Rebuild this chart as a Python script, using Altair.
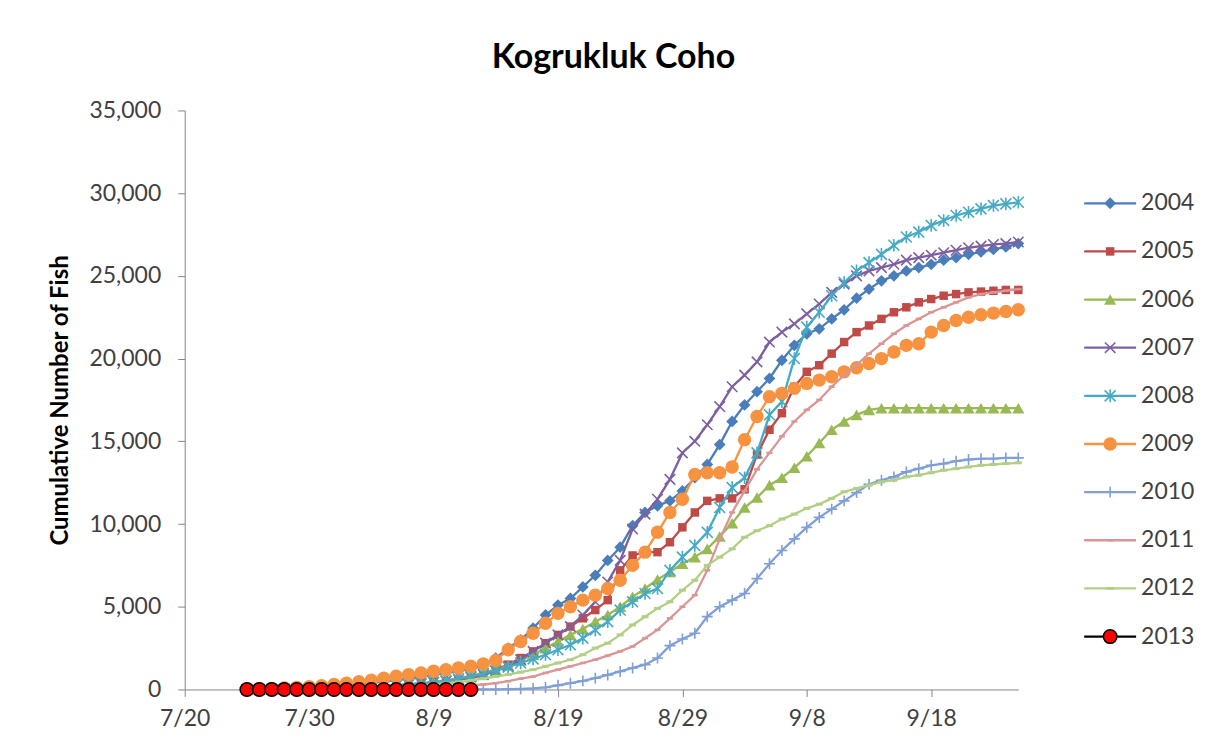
import altair as alt
import pandas as pd

# ---------------- data ----------------
years = ["2004", "2005", "2006", "2007", "2008", "2009", "2010", "2011", "2012", "2013"]
first_day = "2013-07-25"          # first daily count (7/25); last is 9/25

v2004 = [0, 10, 20, 40, 60, 90, 130, 180, 240, 310,
         390, 470, 560, 660, 770, 880, 1000, 1120, 1250, 1450,
         1900, 2500, 3000, 3700, 4500, 5100, 5500, 6200, 6900, 7800,
         8600, 9900, 10700, 11100, 11400, 12000, 12800, 13600, 14800, 16200,
         17200, 18000, 18800, 19900, 20800, 21500, 21800, 22400, 22950, 23650,
         24200, 24700, 25000, 25300, 25500, 25700, 25950, 26100, 26300, 26450,
         26600, 26750, 26950]
v2005 = [0, 0, 10, 20, 30, 40, 60, 80, 100, 130,
         160, 200, 250, 300, 360, 430, 500, 600, 700, 850,
         1200, 1500, 1900, 2300, 2800, 3300, 3800, 4300, 4800, 5400,
         7200, 8100, 8300, 8300, 8900, 9800, 10700, 11400, 11550, 11550,
         12100, 14200, 15700, 16700, 18300, 19200, 19600, 20300, 21000, 21600,
         22000, 22400, 22800, 23100, 23400, 23600, 23800, 23900, 24000, 24050,
         24100, 24150, 24150]
v2006 = [0, 0, 10, 20, 30, 40, 60, 80, 100, 130,
         160, 200, 250, 300, 370, 450, 550, 680, 820, 1000,
         1200, 1450, 1750, 2100, 2500, 2900, 3300, 3650, 4100, 4500,
         5000, 5600, 6100, 6650, 7100, 7600, 8000, 8500, 9250, 10050,
         11000, 11600, 12350, 12800, 13400, 14100, 14900, 15700, 16200, 16600,
         16900, 17000, 17000, 17000, 17000, 17000, 17000, 17000, 17000, 17000,
         17000, 17000, 17000]
v2007 = [0, 0, 10, 20, 30, 40, 60, 80, 100, 130,
         160, 200, 250, 300, 350, 420, 500, 600, 750, 900,
         1100, 1400, 1800, 2300, 2800, 3300, 3800, 4500, 5300, 6500,
         7800, 9700, 10600, 11500, 12700, 14300, 15000, 16000, 17100, 18300,
         19000, 19800, 21000, 21600, 22100, 22700, 23300, 24000, 24500, 25000,
         25300, 25500, 25700, 25950, 26100, 26250, 26400, 26550, 26700, 26800,
         26900, 26950, 27050]
v2008 = [0, 0, 10, 20, 30, 40, 60, 80, 100, 120,
         150, 190, 230, 280, 330, 420, 520, 640, 780, 950,
         1150, 1350, 1600, 1850, 2100, 2400, 2700, 3100, 3600, 4100,
         4800, 5300, 5800, 6100, 7200, 8000, 8700, 9500, 11000, 12200,
         12800, 14300, 16600, 17400, 20000, 21900, 22800, 23800, 24600, 25300,
         25800, 26300, 26850, 27350, 27650, 28050, 28350, 28650, 28850, 29050,
         29250, 29350, 29450]
v2009 = [20, 40, 60, 90, 120, 170, 230, 300, 380, 470,
         560, 680, 800, 900, 1000, 1100, 1190, 1300, 1400, 1550,
         1750, 2400, 2900, 3400, 4000, 4600, 5000, 5400, 5700, 6100,
         6600, 7500, 8300, 9500, 10700, 11500, 13000, 13100, 13100, 13450,
         15100, 16500, 17700, 17900, 18200, 18500, 18700, 18900, 19200, 19450,
         19700, 20000, 20400, 20800, 20900, 21600, 22000, 22300, 22500, 22650,
         22750, 22850, 22950]
v2010 = [0, 0, 0, 0, 0, 0, 0, 0, 0, 0,
         0, 0, 0, 0, 0, 0, 0, 0, 0, 0,
         0, 20, 40, 60, 120, 250, 380, 520, 680, 880,
         1090, 1300, 1500, 1900, 2650, 3050, 3400, 4400, 5000, 5400,
         5800, 6700, 7600, 8400, 9100, 9800, 10400, 10900, 11400, 11900,
         12400, 12650, 12850, 13150, 13350, 13550, 13650, 13800, 13900, 13950,
         13950, 14000, 14000]
v2011 = [0, 0, 0, 0, 0, 0, 0, 10, 20, 30,
         40, 50, 60, 80, 100, 120, 150, 200, 250, 300,
         380, 500, 650, 780, 1000, 1200, 1400, 1600, 1800, 2050,
         2300, 2600, 3100, 3600, 4300, 5000, 5700, 7200, 9100, 10700,
         12000, 13300, 14300, 15300, 16200, 16900, 17500, 18300, 19000, 19600,
         20300, 20900, 21500, 22000, 22400, 22800, 23100, 23400, 23700, 23900,
         24000, 24100, 24200]
v2012 = [0, 0, 0, 0, 10, 20, 30, 40, 50, 70,
         100, 130, 160, 200, 250, 300, 380, 450, 550, 650,
         780, 900, 1050, 1200, 1400, 1600, 1800, 2100, 2500, 2800,
         3300, 3900, 4400, 4900, 5300, 6000, 6600, 7500, 8000, 8500,
         9200, 9600, 9900, 10300, 10600, 10950, 11200, 11550, 11950, 12150,
         12350, 12550, 12650, 12850, 12950, 13100, 13250, 13350, 13450, 13550,
         13600, 13650, 13700]
v2013 = [0, 0, 0, 0, 0, 0, 0, 0, 0, 0,
         0, 0, 0, 0, 0, 0, 0, 0, 0]

x_ticks = ["2013-07-20", "2013-07-30", "2013-08-09", "2013-08-19",
           "2013-08-29", "2013-09-08", "2013-09-18"]
x_domain = ["2013-07-20", "2013-09-25"]
y_ticks = [0, 5000, 10000, 15000, 20000, 25000, 30000, 35000]

series = dict(zip(years, [v2004, v2005, v2006, v2007, v2008,
                          v2009, v2010, v2011, v2012, v2013]))
dates = pd.date_range(first_day, periods=len(v2004), freq="D").strftime("%Y-%m-%d").tolist()
rows = []
for yr, vals in series.items():
    for dt_, v in zip(dates, vals):
        rows.append({"date": dt_, "year": yr, "fish": v})
df = pd.DataFrame(rows)

# ---------------- styles ----------------
X_PATH = "M-1,-1L1,1M-1,1L1,-1"
AST_PATH = "M-1,-1L1,1M-1,1L1,-1M0,-1.15L0,1.15"
PLUS_PATH = "M-1,0L1,0M0,-1L0,1"
DASH_PATH = "M-1,0L1,0"

styles = {
    "2004": dict(line="#4A7EBB", pt=dict(shape="diamond", filled=True, color="#4A7EBB", size=140)),
    "2005": dict(line="#BE4B48", pt=dict(shape="square", filled=True, color="#BE4B48", size=72)),
    "2006": dict(line="#98B954", pt=dict(shape="triangle-up", filled=True, color="#98B954", size=150)),
    "2007": dict(line="#7D60A0", pt=dict(shape=X_PATH, filled=False, color="#7D60A0", size=110, strokeWidth=1.6)),
    "2008": dict(line="#46AAC5", pt=dict(shape=AST_PATH, filled=False, color="#46AAC5", size=120, strokeWidth=1.6)),
    "2009": dict(line="#F69240", pt=dict(shape="circle", filled=True, color="#F69240", size=180)),
    "2010": dict(line="#7F9FD6", pt=dict(shape=PLUS_PATH, filled=False, color="#7F9FD6", size=120, strokeWidth=1.6)),
    "2011": dict(line="#D99694", pt=dict(shape=DASH_PATH, filled=False, color="#D99694", size=36, strokeWidth=2.5)),
    "2012": dict(line="#B3CF85", pt=dict(shape=DASH_PATH, filled=False, color="#B3CF85", size=49, strokeWidth=3)),
    "2013": dict(line="#000000", pt=dict(shape="circle", filled=True, fill="#FF0000",
                                         stroke="#000000", strokeWidth=1.5, size=185)),
}

FONT = "Lato"
AXIS_GRAY = "#868686"
TEXT_GRAY = "#404040"
LABEL_SIZE = 23


def dt(s):
    y, m, d = (int(p) for p in s.split("-"))
    return alt.DateTime(year=y, month=m, date=d, utc=True)


x_enc = alt.X(
    "date:T",
    scale=alt.Scale(type="utc", domain=[dt(s) for s in x_domain]),
    axis=alt.Axis(values=[dt(s) for s in x_ticks], format="%-m/%-d", title=None,
                  labelFontSize=LABEL_SIZE, labelFont=FONT, labelColor=TEXT_GRAY,
                  tickSize=7, labelPadding=11, domainColor=AXIS_GRAY, tickColor=AXIS_GRAY,
                  grid=False, labelFlush=False, labelOverlap=False),
)
y_enc = alt.Y(
    "fish:Q",
    scale=alt.Scale(domain=[0, 35000], nice=False),
    axis=alt.Axis(values=y_ticks, format=",.0f", title="Cumulative Number of Fish",
                  titleFont=FONT, titleFontSize=24, titleFontWeight="bold", titleColor="#000000",
                  titleX=-124, titleY=290, titleBaseline="middle", titleAlign="center", titleAngle=270,
                  labelFontSize=LABEL_SIZE, labelFont=FONT, labelColor=TEXT_GRAY,
                  tickSize=7, labelPadding=17, domainColor=AXIS_GRAY, tickColor=AXIS_GRAY,
                  grid=False),
)

base = alt.Chart(df).encode(x=x_enc, y=y_enc)
layers = []
for yr in years:
    st = styles[yr]
    sub = base.transform_filter(alt.datum.year == yr)
    layers.append(sub.mark_line(color=st["line"], strokeWidth=2.3))
    layers.append(sub.mark_point(opacity=1, **st["pt"]))

main = alt.layer(*layers).properties(width=835, height=580)

# ---------------- legend (drawn as its own small panel) ----------------
leg_df = pd.DataFrame({"year": years})
leg_y = alt.Y("year:N", scale=alt.Scale(type="point", domain=years, range=[93, 527], padding=0),
              axis=None)
leg_base = alt.Chart(leg_df).encode(y=leg_y)
leg_layers = []
for yr in years:
    st = styles[yr]
    sub = leg_base.transform_filter(alt.datum.year == yr)
    leg_layers.append(sub.mark_rule(color=st["line"], strokeWidth=2.3).encode(
        x=alt.value(6), x2=alt.value(58)))
    leg_layers.append(sub.mark_point(opacity=1, **st["pt"]).encode(x=alt.value(32)))
leg_layers.append(leg_base.mark_text(align="left", baseline="middle", font=FONT,
                                     fontSize=LABEL_SIZE, color=TEXT_GRAY).encode(
    x=alt.value(63), text="year:N"))
legend = alt.layer(*leg_layers).properties(width=120, height=580)

chart = alt.hconcat(main, legend, spacing=60, bounds="flush").properties(
    title=alt.TitleParams("Kogrukluk Coho", font=FONT, fontSize=34, fontWeight="bold",
                          color="#000000", anchor="middle", offset=24, dx=-10),
    padding={"left": 40, "top": 32, "right": 5, "bottom": 0},
    background="#FFFFFF",
).configure_view(stroke="transparent")

chart.save("out.html", embed_options={"renderer": "svg", "actions": False})
